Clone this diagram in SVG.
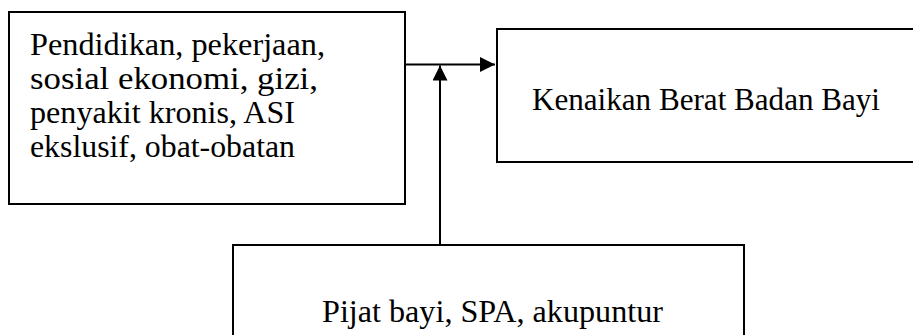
<svg xmlns="http://www.w3.org/2000/svg" width="913" height="335" viewBox="0 0 913 335">
<style>
.box{fill:#fff;stroke:#000;stroke-width:2}
.t{font-family:"Liberation Serif","Times New Roman",serif;font-size:31px;fill:#000}
.ln{stroke:#000;stroke-width:2;fill:none}
</style>
<defs>
<marker id="ah" viewBox="0 0 15 15" refX="15" refY="7.5" markerWidth="15" markerHeight="15" markerUnits="userSpaceOnUse" orient="auto">
<path d="M0,0 L15,7.5 L0,15 Z" fill="#000"/>
</marker>
</defs>
<g id="node-faktor">
<rect class="box" x="9" y="12" width="396" height="192"/>
<text class="t" x="30" y="54.5" textLength="295" lengthAdjust="spacingAndGlyphs">Pendidikan, pekerjaan,</text>
<text class="t" x="30" y="88.5" textLength="288" lengthAdjust="spacingAndGlyphs">sosial ekonomi, gizi,</text>
<text class="t" x="30" y="122.5" textLength="265" lengthAdjust="spacingAndGlyphs">penyakit kronis, ASI</text>
<text class="t" x="30" y="156.5" textLength="265" lengthAdjust="spacingAndGlyphs">ekslusif, obat-obatan</text>
</g>
<g id="node-kenaikan">
<rect class="box" x="497" y="29" width="420" height="133"/>
<text class="t" x="532" y="110" textLength="348" lengthAdjust="spacingAndGlyphs">Kenaikan Berat Badan Bayi</text>
</g>
<g id="node-pijat">
<rect class="box" x="233" y="245" width="511" height="100"/>
<text class="t" x="322" y="321.5" textLength="341" lengthAdjust="spacingAndGlyphs">Pijat bayi, SPA, akupuntur</text>
</g>
<g id="connectors">
<line class="ln" x1="405" y1="64.5" x2="495" y2="64.5" marker-end="url(#ah)"/>
<line class="ln" x1="440" y1="245" x2="440" y2="65.5" marker-end="url(#ah)"/>
</g>
</svg>
